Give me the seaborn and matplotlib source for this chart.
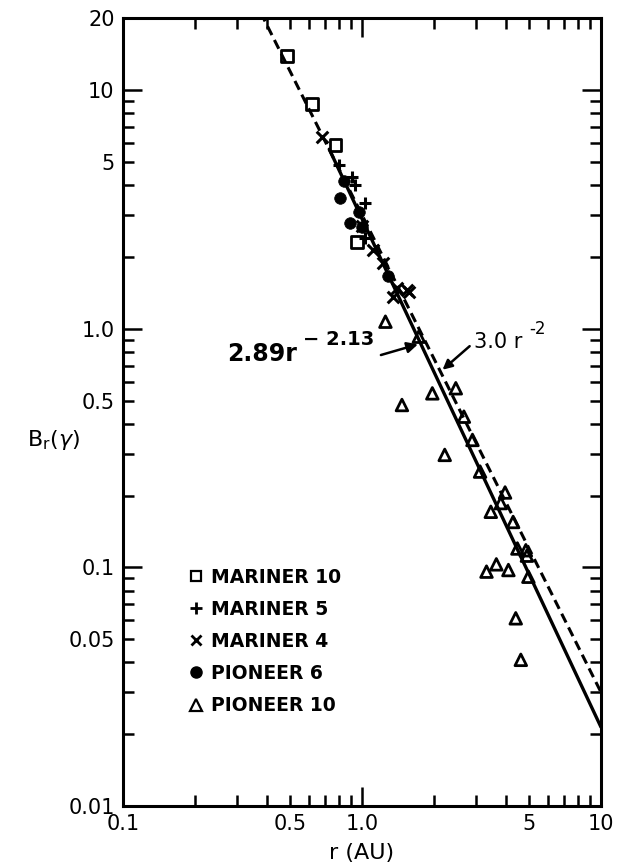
import numpy as np
import pandas as pd
import matplotlib
matplotlib.use("Agg")
import matplotlib.pyplot as plt
import seaborn as sns
from matplotlib.lines import Line2D
from matplotlib.ticker import FixedLocator, NullFormatter, LogLocator

# Radial magnetic field component versus heliocentric distance
mariner10_r = [0.486, 0.618, 0.774, 0.954]
mariner10_b = [13.9, 8.74, 5.88, 2.31]

mariner5_r = [0.805, 0.910, 0.939, 1.034, 1.03]
mariner5_b = [4.85, 4.33, 4.00, 3.36, 2.40]

mariner4_r = [0.681, 1.00, 1.117, 1.23, 1.405, 1.55, 1.35, 1.57]
mariner4_b = [6.37, 2.70, 2.14, 1.88, 1.48, 1.45, 1.36, 1.43]

pioneer6_r = [0.845, 0.813, 0.970, 0.895, 1.00, 1.29]
pioneer6_b = [4.17, 3.53, 3.09, 2.77, 2.68, 1.67]

pioneer10_r = [1.254, 1.73, 1.97, 1.47, 2.47, 2.67, 2.90, 2.22, 3.12, 3.97,
               3.81, 3.46, 4.29, 4.47, 4.85, 4.90, 3.32, 3.65, 4.10, 4.97,
               4.40, 4.62]
pioneer10_b = [1.07, 0.926, 0.536, 0.479, 0.563, 0.428, 0.342, 0.296, 0.252, 0.206,
               0.186, 0.171, 0.155, 0.120, 0.118, 0.112, 0.096, 0.103, 0.0975, 0.0914,
               0.0612, 0.041]

# Power-law fits
fit_coef, fit_exp = 2.89, -2.13
ref_coef, ref_exp = 3.0, -2.0

x_ticks = [0.1, 0.5, 1.0, 5, 10]
x_tick_labels = ["0.1", "0.5", "1.0", "5", "10"]
y_ticks = [0.01, 0.05, 0.1, 0.5, 1.0, 5, 10, 20]
y_tick_labels = ["0.01", "0.05", "0.1", "0.5", "1.0", "5", "10", "20"]

sns.set_style("ticks")
plt.rcParams["font.family"] = ["DejaVu Sans"]
plt.rcParams["text.color"] = "black"
plt.rcParams["axes.labelcolor"] = "black"

fig = plt.figure(figsize=(6.27, 8.64), dpi=100)
ax = fig.add_axes([0.196, 0.067, 0.7625, 0.912])
ax.set_xscale("log")
ax.set_yscale("log")

# Fitted and reference laws
r_ref = np.logspace(np.log10(0.3), 1, 200)
ref_df = pd.DataFrame({"r": r_ref, "B": ref_coef * r_ref ** ref_exp})
sns.lineplot(data=ref_df, x="r", y="B", ax=ax, color="black", lw=2.2,
             linestyle=(0, (3.2, 1.8)), zorder=2)
r_fit = np.logspace(np.log10(0.73), 1, 200)
fit_df = pd.DataFrame({"r": r_fit, "B": fit_coef * r_fit ** fit_exp})
sns.lineplot(data=fit_df, x="r", y="B", ax=ax, color="black", lw=2.4, zorder=2)

common = dict(ax=ax, color="black", s=70, zorder=3, legend=False)
sns.scatterplot(x=mariner10_r, y=mariner10_b, marker="s", facecolor="none",
                edgecolor="black", linewidth=2.0, **common)
sns.scatterplot(x=mariner5_r, y=mariner5_b, marker="+", linewidth=2.2, **common)
sns.scatterplot(x=mariner4_r, y=mariner4_b, marker="x", linewidth=2.2, **common)
sns.scatterplot(x=pioneer6_r, y=pioneer6_b, marker="o", edgecolor="black",
                linewidth=0.5, **common)
sns.scatterplot(x=pioneer10_r, y=pioneer10_b, marker="^", facecolor="none",
                edgecolor="black", linewidth=2.0, **common)

ax.set_xlim(0.1, 10)
ax.set_ylim(0.01, 20)

ax.xaxis.set_major_locator(FixedLocator(x_ticks))
ax.set_xticklabels(x_tick_labels)
ax.xaxis.set_minor_locator(LogLocator(base=10, subs=np.arange(2, 10)))
ax.xaxis.set_minor_formatter(NullFormatter())
ax.yaxis.set_major_locator(FixedLocator(y_ticks))
ax.set_yticklabels(y_tick_labels)
ax.yaxis.set_minor_locator(LogLocator(base=10, subs=np.arange(2, 10)))
ax.yaxis.set_minor_formatter(NullFormatter())

for side in ["left", "right", "top", "bottom"]:
    ax.spines[side].set_linewidth(2.2)
    ax.spines[side].set_color("black")

ax.tick_params(which="both", direction="in", top=True, right=True,
               width=1.8, colors="black", labelsize=15, pad=6)
ax.tick_params(which="major", length=8)
ax.tick_params(which="minor", length=8)
# longer ticks at the decades
for t in ax.xaxis.get_major_ticks() + ax.yaxis.get_major_ticks():
    v = t.get_loc()
    if v in (0.1, 1.0, 10):
        t.tick1line.set_markersize(14)
        t.tick2line.set_markersize(14)

ax.set_xlabel("r (AU)", fontsize=16, labelpad=6)
ax.set_ylabel(r"B$_\mathrm{r}$($\gamma$)", fontsize=16, rotation=0)
ax.yaxis.set_label_coords(-0.146, 0.449)

# Annotations for the two laws
r_a = 1.76
ax.annotate("", xy=(r_a, fit_coef * r_a ** fit_exp), xytext=(1.17, 0.77),
            arrowprops=dict(arrowstyle="-|>", color="black", lw=1.8,
                            mutation_scale=16), zorder=4)
ax.text(0.274, 0.78, "2.89r", fontsize=17, fontweight="bold", ha="left", va="center")
ax.text(0.565, 0.90, "\u2212 2.13", fontsize=14, fontweight="bold", ha="left", va="center")

r_b = 2.13
ax.annotate("", xy=(r_b, ref_coef * r_b ** ref_exp), xytext=(2.88, 0.86),
            arrowprops=dict(arrowstyle="-|>", color="black", lw=1.8,
                            mutation_scale=14), zorder=4)
ax.text(2.93, 0.88, "3.0 r", fontsize=15, ha="left", va="center")
ax.text(5.0, 1.0, "-2", fontsize=12, ha="left", va="center")

handles = [
    Line2D([], [], marker="s", ls="none", mfc="none", mec="black", mew=1.6, ms=7),
    Line2D([], [], marker="+", ls="none", color="black", mew=2.0, ms=9),
    Line2D([], [], marker="x", ls="none", color="black", mew=2.0, ms=7),
    Line2D([], [], marker="o", ls="none", color="black", ms=8),
    Line2D([], [], marker="^", ls="none", mfc="none", mec="black", mew=1.6, ms=8),
]
labels = ["MARINER 10", "MARINER 5", "MARINER 4", "PIONEER 6", "PIONEER 10"]
leg = ax.legend(handles, labels, loc="lower left", bbox_to_anchor=(0.125, 0.106),
                frameon=False, fontsize=13.5, handlelength=0.6, handletextpad=0.5,
                labelspacing=0.7, borderaxespad=0)
for txt in leg.get_texts():
    txt.set_fontweight("semibold")
    txt.set_color("black")

fig.savefig("out.png", dpi=100)
